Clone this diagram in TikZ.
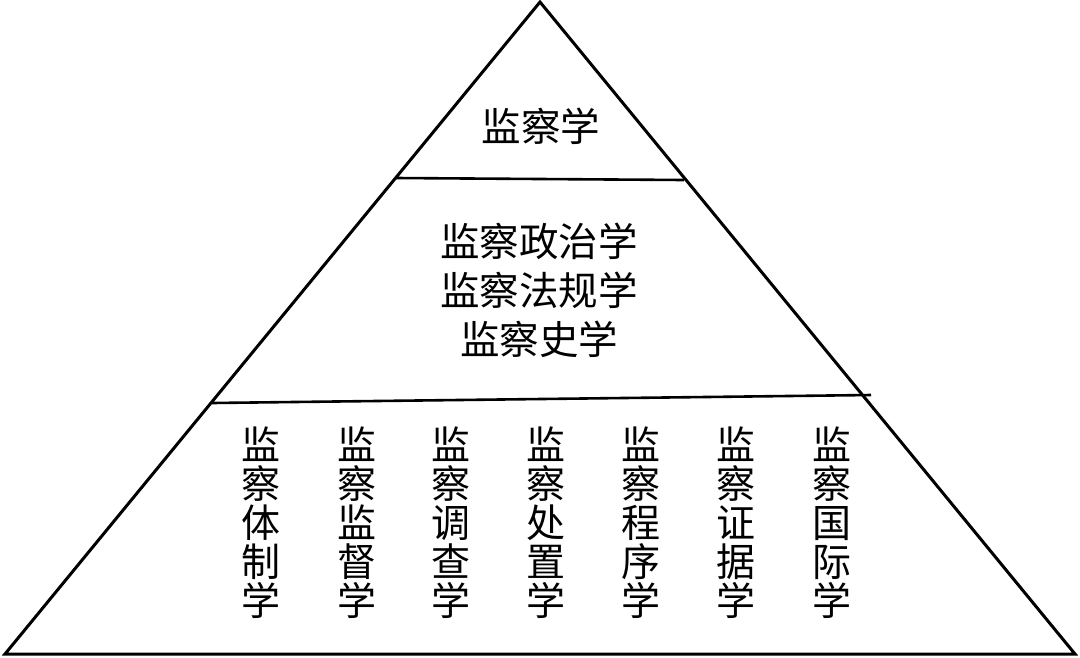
\documentclass[tikz,border=0pt]{standalone}
\usepackage{fontspec}
\newfontfamily\cjk{Noto Sans CJK SC}
\begin{document}
\begin{tikzpicture}[x=1pt,y=-1pt,
  edge/.style={line width=3pt,line join=miter},
  divider/.style={line width=2.6pt},
  label/.style={inner sep=0pt,align=center,font=\cjk\fontsize{39.5}{49}\selectfont},
  col/.style={inner sep=0pt,align=center,font=\cjk\fontsize{39}{39}\selectfont}]
\useasboundingbox (0,0) rectangle (1080,657);
\coordinate (apex) at (540,2);
\coordinate (bl) at (5,654);
\coordinate (br) at (1075,654);
\coordinate (u1) at (396,178);
\coordinate (u2) at (684,180);
\coordinate (l1) at (212,403);
\coordinate (l2) at (871,395);
\draw[edge] (apex) -- (br) -- (bl) -- cycle;
\draw[divider] (u1) -- (u2);
\draw[divider] (l1) -- (l2);
\node[label] (top) at (541,126) {监察学};
\node[label] (mid) at (539,290) {监察政治学\\监察法规学\\监察史学};
\node[col] (c1) at (261,523) {监\\察\\体\\制\\学};
\node[col] (c2) at (357,523) {监\\察\\监\\督\\学};
\node[col] (c3) at (451,523) {监\\察\\调\\查\\学};
\node[col] (c4) at (546,523) {监\\察\\处\\置\\学};
\node[col] (c5) at (641,523) {监\\察\\程\\序\\学};
\node[col] (c6) at (736,523) {监\\察\\证\\据\\学};
\node[col] (c7) at (832,523) {监\\察\\国\\际\\学};
\end{tikzpicture}
\end{document}
